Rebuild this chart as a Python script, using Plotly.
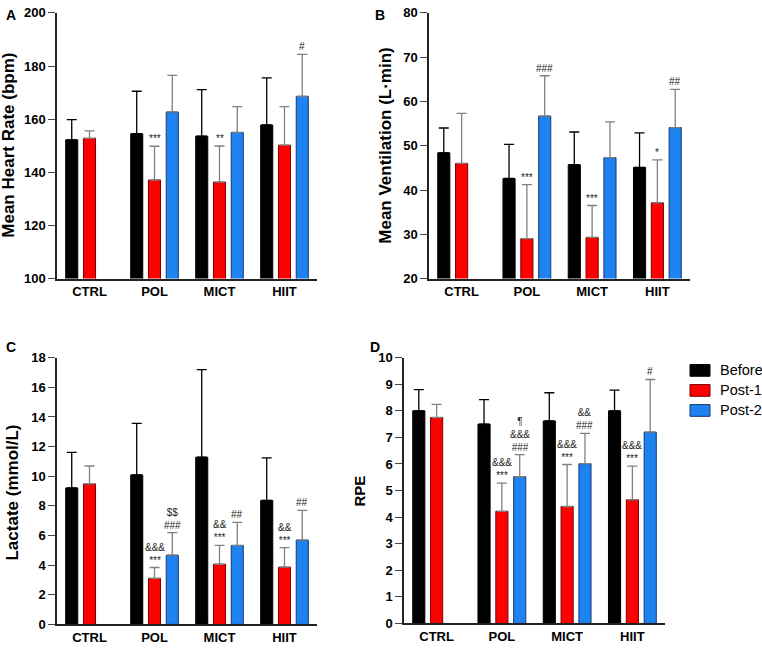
import plotly.graph_objects as go

groups = ["CTRL", "POL", "MICT", "HIIT"]
series = ["Before", "Post-1", "Post-2"]

# heart rate (bpm): means and upper SD tips
hr_before = [152.2, 154.5, 153.6, 157.8]
hr_before_top = [159.8, 170.5, 171.1, 175.5]
hr_post1 = [152.8, 137.1, 136.3, 150.2]
hr_post1_top = [155.6, 149.8, 149.9, 164.7]
hr_post2 = [None, 162.7, 155.0, 168.6]
hr_post2_top = [None, 176.5, 164.7, 184.4]

# ventilation (L/min)
ve_before = [48.4, 42.6, 45.7, 45.1]
ve_before_top = [54.0, 50.3, 53.1, 52.9]
ve_post1 = [46.0, 29.0, 29.3, 37.1]
ve_post1_top = [57.3, 41.2, 36.5, 46.8]
ve_post2 = [None, 56.7, 47.3, 54.1]
ve_post2_top = [None, 65.8, 55.4, 62.7]

# lactate (mmol/L)
la_before = [9.21, 10.09, 11.28, 8.37]
la_before_top = [11.61, 13.57, 17.19, 11.24]
la_post1 = [9.48, 3.11, 4.06, 3.86]
la_post1_top = [10.69, 3.84, 5.33, 5.18]
la_post2 = [None, 4.67, 5.33, 5.69]
la_post2_top = [None, 6.19, 6.88, 7.69]

# RPE
rpe_before = [8.0, 7.5, 7.62, 8.0]
rpe_before_top = [8.8, 8.42, 8.68, 8.78]
rpe_post1 = [7.75, 4.22, 4.40, 4.65]
rpe_post1_top = [8.24, 5.28, 5.98, 5.92]
rpe_post2 = [None, 5.52, 6.01, 7.2]
rpe_post2_top = [None, 6.35, 7.15, 9.18]

# significance marks: (panel, group, series index, text)
marks = [
    (1, "POL", 1, "***"), (1, "MICT", 1, "**"), (1, "HIIT", 2, "#"),
    (2, "POL", 1, "***"), (2, "POL", 2, "###"), (2, "MICT", 1, "***"),
    (2, "HIIT", 1, "*"), (2, "HIIT", 2, "##"),
    (3, "POL", 1, "&&&<br>***"), (3, "POL", 2, "$$<br>###"),
    (3, "MICT", 1, "&&<br>***"), (3, "MICT", 2, "##"),
    (3, "HIIT", 1, "&&<br>***"), (3, "HIIT", 2, "##"),
    (4, "POL", 1, "&&&<br>***"), (4, "POL", 2, "¶<br>&&&<br>###"),
    (4, "MICT", 1, "&&&<br>***"), (4, "MICT", 2, "&&<br>###"),
    (4, "HIIT", 1, "&&&<br>***"), (4, "HIIT", 2, "#"),
]

panels = [
    ("A", "Mean Heart Rate (bpm)", [100, 200], 20,
     [(hr_before, hr_before_top), (hr_post1, hr_post1_top), (hr_post2, hr_post2_top)]),
    ("B", "Mean Ventilation (L·min)", [20, 80], 10,
     [(ve_before, ve_before_top), (ve_post1, ve_post1_top), (ve_post2, ve_post2_top)]),
    ("C", "Lactate (mmol/L)", [0, 18], 2,
     [(la_before, la_before_top), (la_post1, la_post1_top), (la_post2, la_post2_top)]),
    ("D", "RPE", [0, 10], 1,
     [(rpe_before, rpe_before_top), (rpe_post1, rpe_post1_top), (rpe_post2, rpe_post2_top)]),
]

W, H = 762, 649
# plot areas in pixels: x0, x1, ytop, ybottom
boxes = [(57, 317, 6, 278), (429, 690, 6, 278), (57, 317, 359, 632), (404, 665, 359, 631)]
letter_pos = [(4, 8), (373, 8), (4, 348), (368, 348)]
ytitle_pos = [(9, 142, 17), (386, 142, 17), (13, 497, 17), (360, 496, 15)]

fills = ["#000000", "#ff0000", "#1e82f0"]
edges = ["#000000", "#7a0000", "#163a6e"]
errcols = ["#000000", "#808080", "#808080"]
FONT = "Liberation Sans, Arial, sans-serif"

fig = go.Figure()
for p, (letter, title, yr, dt, data) in enumerate(panels, start=1):
    sfx = "" if p == 1 else str(p)
    for s, (vals, tops) in enumerate(data):
        err = [None if v is None else t - v for v, t in zip(vals, tops)]
        fig.add_trace(go.Bar(
            x=groups, y=vals, name=series[s],
            xaxis="x" + sfx, yaxis="y" + sfx,
            marker=dict(color=fills[s], line=dict(color=edges[s], width=1)),
            error_y=dict(type="data", array=err, arrayminus=[0] * 4, symmetric=False,
                         color=errcols[s], thickness=1.3, width=5),
            showlegend=False,
        ))
    x0, x1, yt, yb = boxes[p - 1]
    fig.update_layout(**{
        "xaxis" + sfx: dict(domain=[x0 / W, x1 / W], anchor="y" + sfx, range=[-0.5, 3.5],
                            showline=True, linecolor="#222", linewidth=1.5, ticks="",
                            tickfont=dict(family=FONT, size=13, color="black", weight="bold"),
                            showgrid=False, fixedrange=True),
        "yaxis" + sfx: dict(domain=[1 - yb / H, 1 - yt / H], anchor="x" + sfx, range=yr, dtick=dt,
                            showline=True, linecolor="#222", linewidth=1.5, ticks="outside",
                            ticklen=7, tickwidth=1.3, tickcolor="#444", showgrid=False,
                            zeroline=False,
                            tickfont=dict(family=FONT, size=13, color="black", weight="bold")),
    })
    lx, ly = letter_pos[p - 1]
    fig.add_annotation(x=lx / W, y=1 - ly / H, xref="paper", yref="paper", text=letter,
                       showarrow=False, xanchor="left", yanchor="middle",
                       font=dict(family=FONT, size=14, color="black", weight="bold"))
    tx, ty, ts = ytitle_pos[p - 1]
    fig.add_annotation(x=tx / W, y=1 - ty / H, xref="paper", yref="paper", text=title,
                       showarrow=False, textangle=-90, xanchor="center", yanchor="middle",
                       font=dict(family=FONT, size=ts, color="black", weight="bold"))

offsets = [-17.75, 0, 17.75]
for p, g, s, txt in marks:
    sfx = "" if p == 1 else str(p)
    tops = panels[p - 1][4][s][1]
    fig.add_annotation(x=g, y=tops[groups.index(g)], xref="x" + sfx, yref="y" + sfx,
                       text=txt, showarrow=False, xshift=offsets[s], yanchor="bottom", yshift=0,
                       font=dict(family=FONT, size=10, color="#222222"))

# legend drawn by hand so the swatches can be wide rectangles like the original
for s, name in enumerate(series):
    cy = 372 + s * 20.5
    fig.add_shape(type="rect", xref="paper", yref="paper",
                  x0=690 / W, x1=710 / W, y0=1 - (cy + 6) / H, y1=1 - (cy - 6) / H,
                  fillcolor=fills[s], line=dict(color=edges[s], width=1))
    fig.add_annotation(x=718 / W, y=1 - cy / H, xref="paper", yref="paper", text=name,
                       showarrow=False, xanchor="left", yanchor="middle",
                       font=dict(family=FONT, size=14.5, color="black"))

fig.update_layout(
    width=W, height=H, margin=dict(l=0, r=0, t=0, b=0),
    paper_bgcolor="white", plot_bgcolor="white",
    barmode="group", bargap=0.18, bargroupgap=0.32,
    font=dict(family=FONT, color="black"),
)

# the page's default body margin would shift the figure by 8px
fig.write_html("out.html", config={"displayModeBar": False},
               post_script="document.body.style.margin='0';")
